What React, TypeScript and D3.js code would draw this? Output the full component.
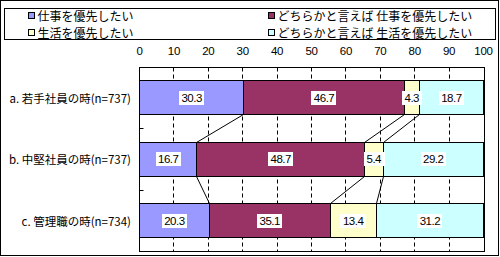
import React, { useEffect, useRef } from 'react';
import * as d3 from 'd3';

const categories = ['a. 若手社員の時(n=737)', 'b. 中堅社員の時(n=737)', 'c. 管理職の時(n=734)'];
const seriesNames = ['仕事を優先したい', 'どちらかと言えば 仕事を優先したい', '生活を優先したい', 'どちらかと言えば 生活を優先したい'];
const seriesColors = ['#9999FF', '#993366', '#FFFFCC', '#CCFFFF'];
const work = [30.3, 16.7, 20.3];
const ratherWork = [46.7, 48.7, 35.1];
const life = [4.3, 5.4, 13.4];
const ratherLife = [18.7, 29.2, 31.2];
const tickValues = [0, 10, 20, 30, 40, 50, 60, 70, 80, 90, 100];

const CJK = '"Noto Sans CJK JP", "Noto Sans", sans-serif';
const NUM = '"Liberation Sans", Arial, sans-serif';

export default function App() {
  const ref = useRef<SVGSVGElement>(null);

  useEffect(() => {
    const svg = d3.select(ref.current);
    svg.selectAll('*').remove();
    const W = 500, H = 257;
    const series = [work, ratherWork, life, ratherLife];

    const x = d3.scaleLinear().domain([0, 100]).range([139.5, 483.5]);
    const y = d3.scaleBand<string>().domain(categories).range([66.7, 251.7]).paddingInner(0.45).paddingOuter(0.225);
    const px = (v: number) => Math.round(x(v) - 0.5) + 0.5;
    const py = (v: number) => Math.round(v - 0.5) + 0.5;

    // background + outer border
    svg.append('rect').attr('x', 0).attr('y', 0).attr('width', W).attr('height', H).attr('fill', '#fff');
    svg.append('rect').attr('x', 0.5).attr('y', 0.5).attr('width', 498).attr('height', 255)
      .attr('fill', 'none').attr('stroke', '#000');

    // legend
    svg.append('rect').attr('x', 4.5).attr('y', 8.5).attr('width', 491).attr('height', 31)
      .attr('fill', '#fff').attr('stroke', '#000');
    const legPos = [[28.5, 12.5], [268.5, 12.5], [28.5, 29.5], [268.5, 29.5]];
    seriesNames.forEach((name, i) => {
      const [lx, ly] = legPos[i];
      svg.append('rect').attr('x', lx).attr('y', ly).attr('width', 6).attr('height', 6)
        .attr('fill', seriesColors[i]).attr('stroke', '#000');
      svg.append('text').attr('x', lx + 9).attr('y', ly + 3).attr('dominant-baseline', 'central')
        .attr('font-family', CJK).attr('font-size', 12).attr('fill', '#000').text(name);
    });

    // axis tick labels (top)
    tickValues.forEach(t => {
      svg.append('text').attr('x', x(t)).attr('y', 51).attr('text-anchor', 'middle')
        .attr('dominant-baseline', 'central').attr('font-family', NUM).attr('font-size', 11.5)
        .attr('letter-spacing', -0.3).attr('fill', '#000').text(String(t));
    });

    const top = 67.5, bottom = 251.5;
    // gridlines
    tickValues.filter(t => t > 0 && t < 100).forEach(t => {
      svg.append('line').attr('x1', px(t)).attr('x2', px(t)).attr('y1', top).attr('y2', bottom)
        .attr('stroke', '#000').attr('stroke-dasharray', '4,3');
    });
    // plot border
    svg.append('rect').attr('x', 139.5).attr('y', top).attr('width', 345).attr('height', bottom - top)
      .attr('fill', 'none').attr('stroke', '#000');
    // category ticks
    const step = y.step();
    for (let k = 1; k < categories.length; k++) {
      const yy = py(66.7 + step * k);
      svg.append('line').attr('x1', 139.5).attr('x2', 143.5).attr('y1', yy).attr('y2', yy).attr('stroke', '#000');
    }

    // category labels
    categories.forEach(c => {
      svg.append('text').attr('x', 131).attr('y', (y(c) as number) + y.bandwidth() / 2)
        .attr('text-anchor', 'end').attr('dominant-baseline', 'central')
        .attr('font-family', CJK).attr('font-size', 11.5).attr('fill', '#000').text(c);
    });

    // cumulative
    const cum = categories.map((_, ci) => {
      const arr = [0];
      series.forEach(s => arr.push(arr[arr.length - 1] + s[ci]));
      return arr;
    });

    // series lines
    for (let ci = 0; ci < categories.length - 1; ci++) {
      const yb = py((y(categories[ci]) as number) + y.bandwidth());
      const yt = py(y(categories[ci + 1]) as number);
      for (let k = 1; k < series.length; k++) {
        svg.append('line').attr('x1', px(cum[ci][k])).attr('y1', yb)
          .attr('x2', px(cum[ci + 1][k])).attr('y2', yt).attr('stroke', '#000');
      }
    }

    // bars
    categories.forEach((c, ci) => {
      const y0 = py(y(c) as number);
      const y1 = py((y(c) as number) + y.bandwidth());
      series.forEach((s, si) => {
        const x0 = px(cum[ci][si]);
        const x1 = px(cum[ci][si + 1]);
        svg.append('rect').attr('x', x0).attr('y', y0).attr('width', x1 - x0).attr('height', y1 - y0)
          .attr('fill', seriesColors[si]).attr('stroke', '#000');
      });
    });

    // data labels
    categories.forEach((c, ci) => {
      const cy = (y(c) as number) + y.bandwidth() / 2;
      series.forEach((s, si) => {
        const cx = x((cum[ci][si] + cum[ci][si + 1]) / 2);
        const g = svg.append('g');
        const rect = g.append('rect').attr('fill', '#fff');
        const t = g.append('text').attr('x', cx).attr('y', cy).attr('text-anchor', 'middle')
          .attr('dominant-baseline', 'central').attr('font-family', NUM).attr('font-size', 11.5)
          .attr('letter-spacing', -0.5).attr('fill', '#000').text(s[ci].toFixed(1));
        const bb = (t.node() as SVGTextElement).getBBox();
        rect.attr('x', Math.round(bb.x - 2.5)).attr('y', Math.round(cy - 7)).attr('width', Math.round(bb.width + 5))
          .attr('height', 14);
      });
    });
  }, []);

  return (
    <svg ref={ref} width={500} height={257} style={{ position: 'absolute', left: 0, top: 0, display: 'block' }} />
  );
}
